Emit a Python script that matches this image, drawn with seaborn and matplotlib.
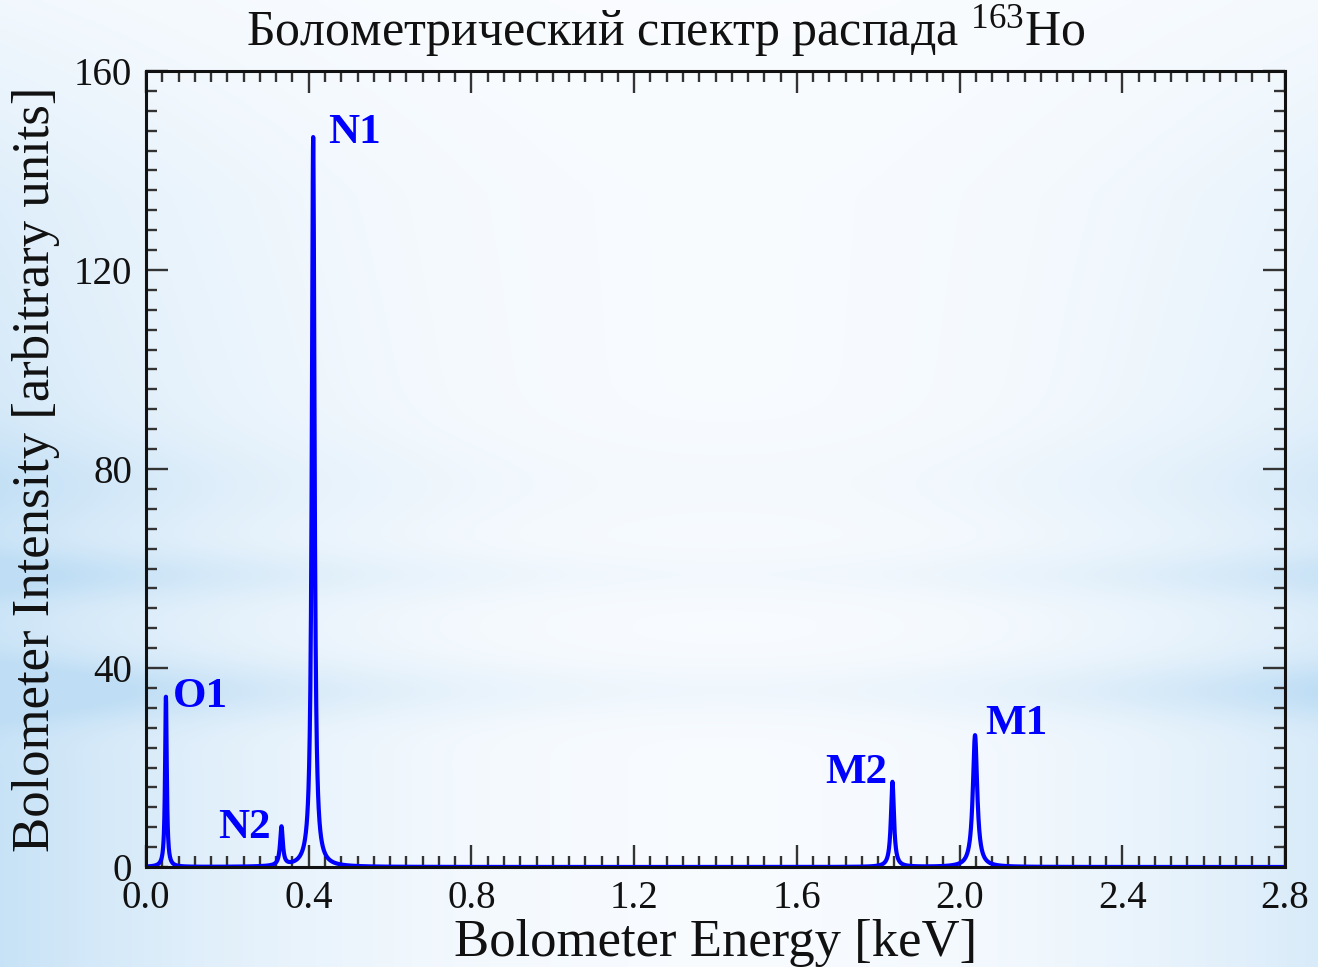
import numpy as np
import pandas as pd
import matplotlib
matplotlib.use("Agg")
import matplotlib.pyplot as plt
from matplotlib.ticker import MultipleLocator
import seaborn as sns

# Line parameters of the 163Ho electron-capture spectrum (energy in keV)
line_names = ["O1", "N2", "N1", "M2", "M1"]
line_energy = [0.049, 0.333, 0.411, 1.835, 2.038]
line_height = [34.2, 7.8, 146.7, 17.1, 26.5]
line_width = [0.005, 0.008, 0.008, 0.009, 0.013]

# Label anchor points (data units) and horizontal alignment for each line
label_x = [0.066, 0.307, 0.447, 1.823, 2.062]
label_y = [34.2, 7.8, 147.5, 18.9, 28.7]
label_ha = ["left", "right", "left", "right", "left"]

x_ticks = [0.0, 0.4, 0.8, 1.2, 1.6, 2.0, 2.4, 2.8]
y_ticks = [0, 40, 80, 120, 160]

title_text = "Болометрический спектр распада $\\mathrm{^{163}}$Ho"
x_label = "Bolometer Energy [keV]"
y_label = "Bolometer Intensity [arbitrary units]"

# Build the spectrum as a sum of Lorentzian lines
energy = np.linspace(0.0, 2.8, 5601)
intensity = np.zeros_like(energy)
for e0, h, g in zip(line_energy, line_height, line_width):
    hw = g / 2.0
    intensity += h * hw**2 / ((energy - e0) ** 2 + hw**2)
spectrum = pd.DataFrame({"energy": energy, "intensity": intensity})

sns.set_style("ticks")
plt.rcParams["font.family"] = ["Liberation Serif", "DejaVu Serif"]
plt.rcParams["mathtext.fontset"] = "custom"
plt.rcParams["mathtext.rm"] = "Liberation Serif"

W, H = 1318, 967
fig = plt.figure(figsize=(W / 100, H / 100), dpi=100)

# Pale blue slide background with a white glow and soft horizontal bands
bg_ax = fig.add_axes([0, 0, 1, 1], zorder=-10)
gx = np.linspace(0, 1, 400)[None, :]
gy = np.linspace(0, 1, 300)[:, None]
edge = np.clip(np.abs(gx - 0.55) / 0.55, 0, 1) ** 2.2
vert = 0.35 + 0.65 * np.clip(gy / 0.8, 0, 1)
band = (0.45 * np.exp(-((gy - 0.595) / 0.025) ** 2)
        + 0.65 * np.exp(-((gy - 0.715) / 0.03) ** 2)
        + 0.25 * np.exp(-((gy - 0.50) / 0.05) ** 2))
alpha = np.clip(0.06 + 0.8 * edge * vert + band * (0.2 + 0.8 * edge), 0, 1)
top_fade = np.clip((0.2 - gy) / 0.2, 0, 1) * 0.5
alpha = np.clip(alpha * (1 - top_fade), 0, 1)
white = np.array([0.985, 0.992, 1.0])
blue = np.array([0.75, 0.87, 0.96])
img = white[None, None, :] * (1 - alpha[..., None]) + blue[None, None, :] * alpha[..., None]
bg_ax.imshow(img, aspect="auto", extent=[0, 1, 0, 1], origin="upper", interpolation="bicubic")
bg_ax.set_axis_off()

ax = fig.add_axes([146 / W, 1 - 867 / H, (1285 - 146) / W, (867 - 71) / H])
ax.patch.set_alpha(0.0)

sns.lineplot(data=spectrum, x="energy", y="intensity", ax=ax,
             color="#0000ff", linewidth=3.0, estimator=None)

for name, lx, ly, ha in zip(line_names, label_x, label_y, label_ha):
    ax.text(lx, ly, name, color="#0000ff", fontsize=31, fontweight="bold",
            ha=ha, va="center")

ax.set_xlim(0.0, 2.8)
ax.set_ylim(0, 160)
ax.set_xticks(x_ticks)
ax.set_xticklabels([f"{v:.1f}" for v in x_ticks])
ax.set_yticks(y_ticks)
ax.set_yticklabels([str(v) for v in y_ticks])
ax.xaxis.set_minor_locator(MultipleLocator(0.04))
ax.yaxis.set_minor_locator(MultipleLocator(4))

for s in ax.spines.values():
    s.set_visible(True)
    s.set_linewidth(2.2)
    s.set_color("#111111")

ax.tick_params(which="both", direction="in", top=True, right=True,
               color="#333333", width=1.7, labelsize=28, labelcolor="#111111")
ax.tick_params(which="major", length=16)
ax.tick_params(which="minor", length=8)
ax.tick_params(axis="x", which="major", pad=9)
ax.tick_params(axis="y", which="major", pad=10)

ax.set_xlabel(x_label, fontsize=38, labelpad=2, color="#111111")
ax.set_ylabel(y_label, fontsize=38, labelpad=10, color="#111111")

fig.text(0.505, 0.968, title_text, fontsize=36, ha="center", va="center", color="#111111")

fig.savefig("out.png", dpi=100)
